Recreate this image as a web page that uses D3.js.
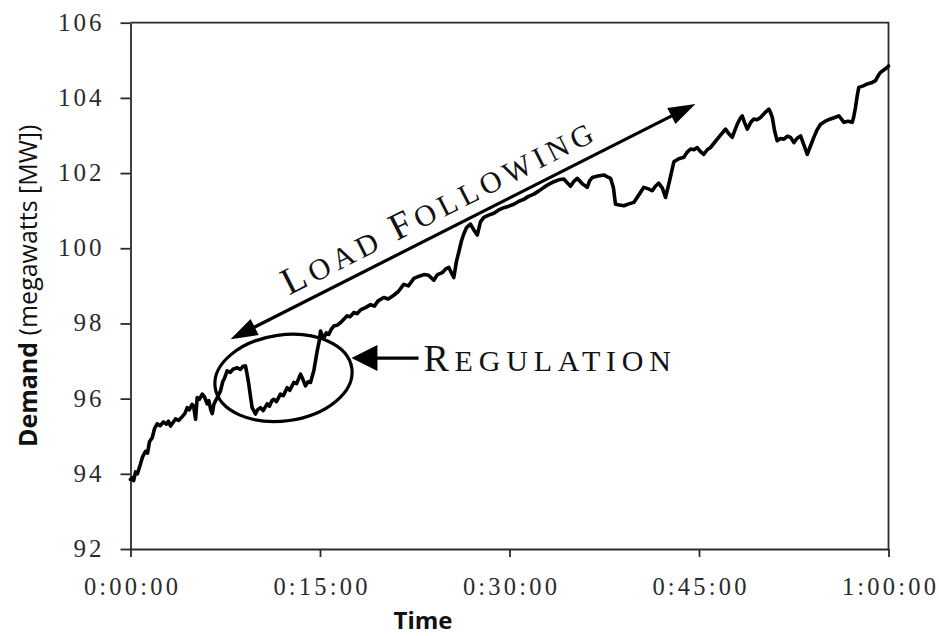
<!DOCTYPE html>
<html>
<head>
<meta charset="utf-8">
<script src="https://cdn.jsdelivr.net/npm/d3@7/dist/d3.min.js"></script>
<style>
  body { margin: 0; background: #fff; }
  svg { display: block; }
</style>
</head>
<body>
<svg id="chart" width="939" height="636"></svg>
<script>
// ---------- DATA ----------
const timesMin = [0.00,0.13,0.25,0.40,0.55,0.79,0.95,1.19,1.35,1.50,1.72,1.90,2.11,2.35,2.61,2.85,3.00,3.17,3.35,3.56,3.80,4.09,4.30,4.49,4.65,4.88,5.00,5.15,5.28,5.45,5.68,5.85,6.07,6.20,6.35,6.47,6.60,6.73,6.90,7.12,7.30,7.45,7.65,7.90,8.10,8.45,8.70,8.90,9.10,9.20,9.36,9.50,9.63,9.89,10.05,10.29,10.50,10.82,11.00,11.20,11.34,11.55,11.87,12.10,12.40,12.60,12.93,13.15,13.46,13.60,13.85,14.05,14.25,14.51,14.78,14.95,15.04,15.15,15.30,15.50,15.70,15.90,16.09,16.35,16.62,16.90,17.15,17.40,17.68,17.95,18.21,18.60,19.00,19.30,19.60,20.05,20.40,20.84,21.20,21.63,22.00,22.43,22.80,23.22,23.60,24.01,24.30,24.67,24.95,25.20,25.40,25.59,25.80,25.99,26.20,26.38,26.60,26.91,27.15,27.45,27.70,27.97,28.35,28.76,29.15,29.55,29.95,30.34,30.75,31.13,31.50,31.93,32.30,32.72,33.10,33.51,33.90,34.30,34.55,34.83,35.10,35.36,35.75,36.15,36.35,36.55,37.00,37.47,37.75,38.00,38.23,38.39,38.70,39.05,39.45,39.84,40.20,40.63,41.00,41.30,41.55,41.82,42.10,42.35,42.61,43.01,43.40,43.80,44.05,44.33,44.60,44.86,45.10,45.38,45.65,45.91,46.20,46.44,46.80,47.10,47.35,47.63,47.85,48.03,48.25,48.42,48.60,48.82,49.10,49.34,49.60,49.87,50.20,50.53,50.65,50.80,51.00,51.19,51.45,51.72,52.00,52.25,52.51,52.75,53.04,53.30,53.57,53.80,54.09,54.35,54.62,55.00,55.41,55.75,56.07,56.25,56.47,56.80,57.13,57.25,57.39,57.52,57.65,58.00,58.32,58.65,58.97,59.20,59.37,59.65,59.90,60.00];
const demandMW = [93.85,93.90,93.82,94.05,94.00,94.26,94.45,94.60,94.55,94.85,94.96,95.20,95.33,95.28,95.38,95.32,95.40,95.27,95.36,95.46,95.42,95.52,95.60,95.76,95.70,95.85,95.80,95.45,96.03,95.98,96.12,96.05,95.86,95.95,95.70,95.60,95.85,95.94,96.05,96.20,96.45,96.55,96.74,96.70,96.78,96.82,96.78,96.86,96.87,96.70,96.39,96.05,95.76,95.59,95.70,95.76,95.68,95.86,95.80,95.95,95.98,95.92,96.12,96.08,96.29,96.22,96.43,96.40,96.65,96.55,96.34,96.45,96.43,96.74,97.27,97.55,97.80,97.70,97.60,97.75,97.71,97.85,97.93,97.95,98.02,98.12,98.20,98.18,98.29,98.26,98.36,98.42,98.50,98.46,98.60,98.69,98.65,98.75,98.85,99.04,99.00,99.20,99.25,99.30,99.28,99.15,99.30,99.35,99.45,99.49,99.35,99.22,99.65,99.90,100.20,100.38,100.55,100.64,100.50,100.35,100.70,100.82,100.88,100.93,101.02,101.08,101.12,101.17,101.25,101.30,101.38,101.44,101.52,101.62,101.70,101.77,101.82,101.84,101.75,101.65,101.78,101.86,101.72,101.62,101.80,101.88,101.92,101.95,101.90,101.86,101.60,101.17,101.15,101.13,101.18,101.22,101.40,101.62,101.58,101.53,101.65,101.73,101.60,101.35,101.71,102.30,102.38,102.42,102.55,102.64,102.62,102.68,102.58,102.50,102.62,102.68,102.80,102.90,103.05,103.17,103.05,102.95,103.15,103.30,103.45,103.52,103.35,103.17,103.35,103.44,103.42,103.48,103.60,103.70,103.62,103.48,103.10,102.86,102.92,102.90,102.98,102.95,102.81,102.92,102.99,102.75,102.50,102.70,102.95,103.15,103.30,103.38,103.44,103.48,103.52,103.45,103.35,103.38,103.35,103.50,103.75,104.05,104.28,104.32,104.37,104.40,104.46,104.60,104.68,104.75,104.81,104.85];

const xTickValues = [0, 15, 30, 45, 60];
const xTickLabels = ["0:00:00", "0:15:00", "0:30:00", "0:45:00", "1:00:00"];
const yTickValues = [92, 94, 96, 98, 100, 102, 104, 106];
const yTickLabels = ["92", "94", "96", "98", "100", "102", "104", "106"];

const xTitle = "Time";
const yTitleBold = "Demand";
const yTitleRest = " (megawatts [MW])";

// annotation anchors in data units [minutes, MW]
const loadArrowFrom = [7.92, 97.58];
const loadArrowTo = [44.72, 103.84];
const loadTextAt = [12.55, 98.74];
const regEllipseCenter = [12.11, 96.55];
const regArrowTip = [17.49, 97.08];
const regArrowTail = [22.80, 97.08];
const regTextAt = [23.19, 96.74];

// ---------- CHART ----------
const svg = d3.select("#chart");
const x = d3.scaleLinear().domain([0, 60]).range([130.5, 888.5]);
const y = d3.scaleLinear().domain([92, 106]).range([549, 22.7]);
const serif = "'Liberation Serif', 'Times New Roman', serif";
const sans = "'Open Sans', 'Noto Sans', sans-serif";
const frameColor = "#2a2a2a";

// frame (top & right)
svg.append("path")
  .attr("d", `M${x(0)},${y(106)}H${x(60)}V${y(92)}`)
  .attr("fill", "none").attr("stroke", frameColor).attr("stroke-width", 1.8);

// y axis
const yAxis = svg.append("g").attr("transform", `translate(${x(0)},0)`)
  .call(d3.axisLeft(y).tickValues(yTickValues).tickSize(10).tickSizeOuter(0)
    .tickFormat((d, i) => yTickLabels[i]));
yAxis.select(".domain").attr("stroke", frameColor).attr("stroke-width", 1.8);
yAxis.selectAll(".tick line").attr("stroke", frameColor).attr("stroke-width", 1.8);
yAxis.selectAll(".tick text")
  .attr("x", -26).attr("dy", "0.3em")
  .attr("font-family", serif).attr("font-size", 25).attr("fill", "#2b2b2b")
  .attr("letter-spacing", "3px").attr("text-anchor", "end");

// x axis
const xAxis = svg.append("g").attr("transform", `translate(0,${y(92)})`)
  .call(d3.axisBottom(x).tickValues(xTickValues).tickSize(8).tickSizeOuter(0)
    .tickFormat((d, i) => xTickLabels[i]));
xAxis.select(".domain").attr("stroke", frameColor).attr("stroke-width", 1.8);
xAxis.selectAll(".tick line").attr("stroke", frameColor).attr("stroke-width", 1.8);
xAxis.selectAll(".tick text")
  .attr("y", 46).attr("dy", 0).attr("dx", "1.5px")
  .attr("font-family", serif).attr("font-size", 24.5).attr("fill", "#2b2b2b")
  .attr("letter-spacing", "3.2px");

// axis titles
svg.append("text")
  .attr("x", 423).attr("y", 629).attr("text-anchor", "middle")
  .attr("font-family", sans).attr("font-weight", 700).attr("font-size", 24)
  .attr("fill", "#111").text(xTitle);

const yt = svg.append("text")
  .attr("transform", `translate(37,${(y(92) + y(106)) / 2}) rotate(-90)`)
  .attr("text-anchor", "middle")
  .attr("font-family", sans).attr("font-size", 25).attr("fill", "#111");
yt.append("tspan").attr("font-weight", 700).text(yTitleBold);
yt.append("tspan").attr("font-weight", 400).text(yTitleRest);

// data line
const data = timesMin.map((t, i) => [t, demandMW[i]]);
svg.append("path")
  .datum(data)
  .attr("d", d3.line().x(d => x(d[0])).y(d => y(d[1])))
  .attr("fill", "none").attr("stroke", "#000").attr("stroke-width", 3.6)
  .attr("stroke-linejoin", "round").attr("stroke-linecap", "round");

// ---------- ANNOTATIONS ----------
function arrowHead(tip, angleRad, len, halfW) {
  const [tx, ty] = tip;
  const bx = tx - len * Math.cos(angleRad), by = ty - len * Math.sin(angleRad);
  const nx = -Math.sin(angleRad), ny = Math.cos(angleRad);
  return `M${tx},${ty}L${bx + nx * halfW},${by + ny * halfW}L${bx - nx * halfW},${by - ny * halfW}Z`;
}

const la0 = [x(loadArrowFrom[0]), y(loadArrowFrom[1])];
const la1 = [x(loadArrowTo[0]), y(loadArrowTo[1])];
const laAng = Math.atan2(la1[1] - la0[1], la1[0] - la0[0]);
svg.append("line")
  .attr("x1", la0[0] + 15 * Math.cos(laAng)).attr("y1", la0[1] + 15 * Math.sin(laAng))
  .attr("x2", la1[0] - 15 * Math.cos(laAng)).attr("y2", la1[1] - 15 * Math.sin(laAng))
  .attr("stroke", "#000").attr("stroke-width", 3.2);
svg.append("path").attr("d", arrowHead(la1, laAng, 27, 9)).attr("fill", "#000");
svg.append("path").attr("d", arrowHead(la0, laAng + Math.PI, 27, 9)).attr("fill", "#000");

const lt = svg.append("text")
  .attr("transform", `translate(${x(loadTextAt[0])},${y(loadTextAt[1])}) rotate(${laAng * 180 / Math.PI})`)
  .attr("font-family", serif).attr("fill", "#111").attr("letter-spacing", "5px");
lt.append("tspan").attr("font-size", 38).text("L");
lt.append("tspan").attr("font-size", 30).text("OAD ");
lt.append("tspan").attr("font-size", 38).text("F");
lt.append("tspan").attr("font-size", 30).text("OLLOWING");

// regulation ellipse
svg.append("ellipse")
  .attr("transform", `translate(${x(regEllipseCenter[0])},${y(regEllipseCenter[1])}) rotate(-8)`)
  .attr("rx", 69).attr("ry", 43)
  .attr("fill", "none").attr("stroke", "#000").attr("stroke-width", 3.2);

// regulation arrow
const rt = [x(regArrowTip[0]), y(regArrowTip[1])];
const rtail = [x(regArrowTail[0]), y(regArrowTail[1])];
svg.append("line")
  .attr("x1", rt[0] + 20).attr("y1", rt[1]).attr("x2", rtail[0]).attr("y2", rtail[1])
  .attr("stroke", "#000").attr("stroke-width", 3.2);
svg.append("path").attr("d", arrowHead(rt, Math.PI, 26, 13)).attr("fill", "#000");

const rg = svg.append("text")
  .attr("x", x(regTextAt[0])).attr("y", y(regTextAt[1]))
  .attr("font-family", serif).attr("fill", "#111").attr("letter-spacing", "5.8px");
rg.append("tspan").attr("font-size", 38).text("R");
rg.append("tspan").attr("font-size", 30).text("EGULATION");
</script>
</body>
</html>
